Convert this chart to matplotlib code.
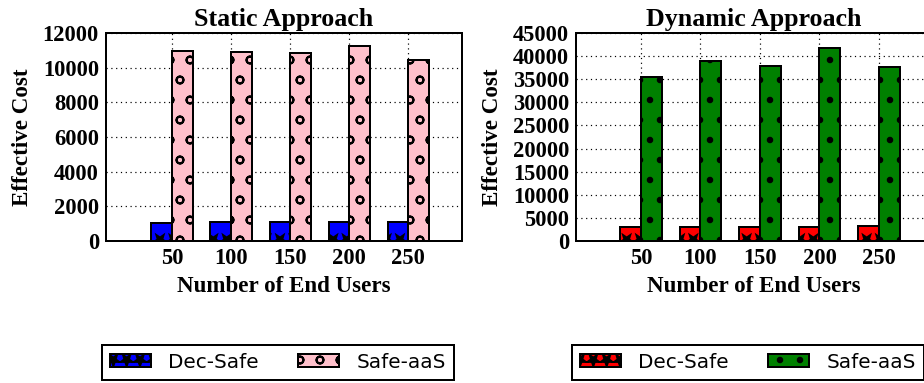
import numpy as np
import matplotlib
matplotlib.use('Agg')
import matplotlib.pyplot as plt
from matplotlib import hatch as mhatch
from matplotlib.path import Path

# number of end users on the x axis
users = ['50', '100', '150', '200', '250']

# effective cost, static approach
static_dec_safe = [1040, 1110, 1110, 1080, 1080]
static_safe_aas = [10980, 10900, 10870, 11230, 10420]

# effective cost, dynamic approach
dynamic_dec_safe = [3100, 2970, 3100, 3100, 3250]
dynamic_safe_aas = [35530, 39000, 37920, 41680, 37550]

DPI = 80


def pt(px):
    # sizes below are given in pixels, matplotlib wants points
    return px * 72.0 / DPI


class GridShapes(mhatch.HatchPatternBase):
    """Sparse staggered hatch of one shape; the hatch tile is DPI px wide."""
    char = 'o'
    ncols = 4
    nrows = 4
    radius = 0.04
    filled = False

    def shape(self):
        return Path.unit_circle()

    def __init__(self, hatch, density):
        self.count = hatch.count(self.char)
        self.num_vertices = 0
        if not self.count:
            return
        path = self.shape()
        verts = path.vertices * self.radius
        codes = path.codes
        if not self.filled:
            verts = np.concatenate([verts, verts[::-1] * 0.9])
            codes = np.concatenate([codes, codes])
        self._verts, self._codes = verts, codes
        self._pos = []
        for r in range(self.nrows + 1):
            y = r / self.nrows
            if r % 2 == 0:
                xs = np.linspace(0, 1, self.ncols + 1)
            else:
                xs = (np.arange(self.ncols) + 0.5) / self.ncols
            self._pos += [(x, y) for x in xs]
        self.num_vertices = len(self._pos) * len(verts)

    def set_vertices_and_codes(self, vertices, codes):
        vertices[:] = np.concatenate([self._verts + p for p in self._pos])
        codes[:] = np.concatenate([self._codes for _ in self._pos])


class OpenCircles(GridShapes):
    char = 'o'
    radius = 0.045


class Dots(GridShapes):
    char = '.'
    radius = 0.028
    filled = True


class BigStars(GridShapes):
    char = '*'
    ncols = 6
    nrows = 2
    radius = 0.075
    filled = True

    def shape(self):
        # hatch tiles are drawn upside down, so flip the star to point up
        star = Path.unit_regular_star(5, innerCircle=0.4)
        return Path(star.vertices * [1, -1], star.codes)


# swap the stock small circles, dots and stars for the sparser ones above
swap = {mhatch.SmallCircles: OpenCircles,
        mhatch.SmallFilledCircles: Dots,
        mhatch.Stars: BigStars}
mhatch._hatch_types = [swap.get(h, h) for h in mhatch._hatch_types]

plt.rcParams['hatch.linewidth'] = pt(2)
serif = ['Liberation Serif', 'DejaVu Serif']

width = 0.35
ind = np.arange(len(users))

fig = plt.figure(figsize=(924 / DPI, 383 / DPI), dpi=DPI)


def draw_panel(ax, dec, saas, dec_color, saas_color, dec_hatch, saas_hatch,
               title, ymax, ystep, xlim):
    b1 = ax.bar(ind - width / 2, dec, width, color=dec_color, edgecolor='black',
                linewidth=pt(2), hatch=dec_hatch, label='Dec-Safe', zorder=3)
    b2 = ax.bar(ind + width / 2, saas, width, color=saas_color, edgecolor='black',
                linewidth=pt(2), hatch=saas_hatch, label='Safe-aaS', zorder=3)
    ax.set_xlim(*xlim)
    ax.set_ylim(0, ymax)
    ax.set_yticks(np.arange(0, ymax + 1, ystep))
    ax.set_xticks(ind)
    ax.set_xticklabels(users)
    ax.grid(True, color='black', linestyle=(0, (1, 3)), linewidth=pt(1.2), zorder=0)
    ax.tick_params(length=0, pad=pt(7))
    for lab in ax.get_xticklabels() + ax.get_yticklabels():
        lab.set_fontfamily(serif)
        lab.set_fontweight('bold')
        lab.set_fontsize(pt(22.5))
    for s in ax.spines.values():
        s.set_linewidth(pt(2))
    ax.set_title(title, fontfamily=serif, fontweight='bold', fontsize=pt(26), pad=pt(7))
    ax.set_xlabel('Number of End Users', fontfamily=serif, fontweight='bold',
                  fontsize=pt(23), labelpad=pt(7))
    ax.set_ylabel('Effective Cost', fontfamily=serif, fontweight='bold',
                  fontsize=pt(23), labelpad=pt(10))
    return b1, b2


ax1 = fig.add_axes([106 / 924, 142 / 383, 356 / 924, 208 / 383])
h1 = draw_panel(ax1, static_dec_safe, static_safe_aas, 'blue', 'pink', '*', 'o',
                'Static Approach', 12000, 2000, (-1.12, 4.91))

ax2 = fig.add_axes([576 / 924, 142 / 383, 356 / 924, 208 / 383])
h2 = draw_panel(ax2, dynamic_dec_safe, dynamic_safe_aas, 'red', 'green', '*', '.',
                'Dynamic Approach', 45000, 5000, (-1.09, 4.89))

legend_kw = dict(loc='center', ncol=2, fontsize=pt(20), frameon=True, fancybox=False,
                 edgecolor='black', framealpha=1, handlelength=2.05, handleheight=0.65,
                 handletextpad=0.85, columnspacing=2.0, borderpad=0.4)
leg1 = fig.legend(handles=list(h1), bbox_to_anchor=(277.5 / 924, 21 / 383), **legend_kw)
leg2 = fig.legend(handles=list(h2), bbox_to_anchor=(747.5 / 924, 21 / 383), **legend_kw)
for leg in (leg1, leg2):
    leg.get_frame().set_linewidth(pt(2))

fig.savefig('out.png', dpi=DPI)
